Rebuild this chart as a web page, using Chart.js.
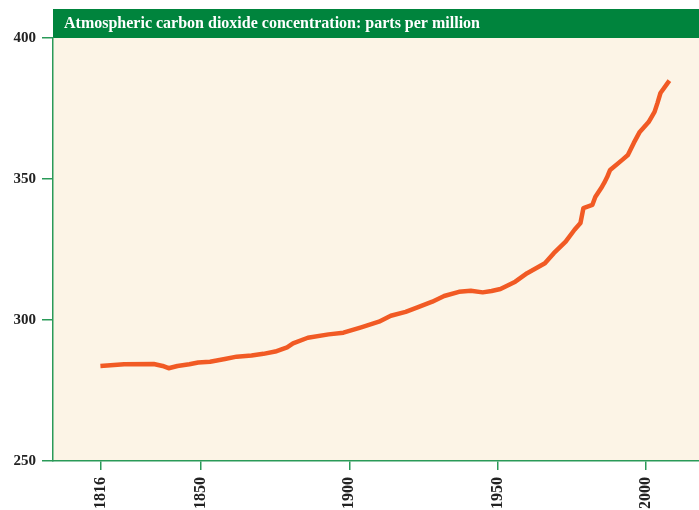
<!DOCTYPE html>
<html>
<head>
<meta charset="utf-8">
<script src="https://cdn.jsdelivr.net/npm/chart.js@4/dist/chart.umd.min.js"></script>
<style>
  html, body { margin: 0; padding: 0; background: #fff; }
  #wrap { width: 699px; height: 510px; }
</style>
</head>
<body>
<div id="wrap"><canvas id="co2Chart"></canvas></div>
<script>
// Dados
const titleText = 'Atmospheric carbon dioxide concentration: parts per million';
const years = [1816,1824,1834,1837,1839,1842,1846,1849,1853,1858,1862,1867,1871,1875,1879,1881,1886,1893,1898,1904,1910,1914,1919,1923,1928,1932,1937,1941,1945,1948,1951,1956,1960,1966,1969,1973,1976,1978,1979,1982,1983,1985,1986,1987,1988,1992,1994,1996,1998,2001,2003,2004,2005,2008];
const ppm = [283.7,284.3,284.4,283.7,282.9,283.7,284.3,284.9,285.2,286.2,287.0,287.4,288.0,288.8,290.3,291.7,293.7,294.9,295.5,297.4,299.4,301.5,302.9,304.5,306.5,308.5,310.0,310.4,309.8,310.3,311.0,313.6,316.6,320.1,323.7,327.8,332.0,334.4,339.7,340.8,343.6,346.8,348.6,350.7,353.2,356.7,358.5,362.8,366.7,370.2,373.8,377,380.5,384.9];
const xTicks = [1816, 1850, 1900, 1950, 2000];
const yTicks = [250, 300, 350, 400];

const green = '#00843d';
const axisGreen = '#2a9a58';
const serif = "'Liberation Serif', 'DejaVu Serif', serif";

// Fundo creme + barra de título
const bgPlugin = {
  id: 'bgPlugin',
  beforeDraw(chart) {
    const { ctx, chartArea: a } = chart;
    ctx.save();
    ctx.fillStyle = '#fcf4e6';
    ctx.fillRect(a.left, a.top, a.right - a.left, a.bottom - a.top);
    ctx.fillStyle = green;
    ctx.fillRect(a.left, a.top - 29, a.right - a.left, 29);
    ctx.fillStyle = '#fff';
    ctx.font = 'bold 16px ' + serif;
    ctx.textBaseline = 'alphabetic';
    ctx.fillText(titleText, a.left + 11, a.top - 10);
    ctx.restore();
  }
};

new Chart(document.getElementById('co2Chart'), {
  type: 'line',
  data: {
    datasets: [{
      data: years.map((y, i) => ({ x: y, y: ppm[i] })),
      borderColor: '#f15a24',
      borderWidth: 4.5,
      pointRadius: 0,
      tension: 0,
      borderCapStyle: 'butt',
      borderJoinStyle: 'round'
    }]
  },
  options: {
    responsive: true,
    maintainAspectRatio: false,
    animation: false,
    layout: { padding: { top: 38, right: 0, left: 0, bottom: 0 } },
    plugins: { legend: { display: false }, tooltip: { enabled: false } },
    scales: {
      x: {
        type: 'linear',
        min: 1800,
        max: 2018,
        afterBuildTicks: s => { s.ticks = xTicks.map(v => ({ value: v })); },
        afterFit: s => { s.height = 49; },
        border: { color: axisGreen, width: 1.5 },
        grid: { drawOnChartArea: false, color: axisGreen, tickLength: 9, lineWidth: 1.5 },
        ticks: {
          minRotation: 90,
          maxRotation: 90,
          padding: 7,
          color: '#222',
          font: { family: serif, size: 16, weight: 'bold' },
          callback: v => String(v)
        }
      },
      y: {
        min: 250,
        max: 400,
        afterBuildTicks: s => { s.ticks = yTicks.map(v => ({ value: v })); },
        afterFit: s => { s.width = 53; },
        border: { color: axisGreen, width: 1.5 },
        grid: { drawOnChartArea: false, color: axisGreen, tickLength: 11, lineWidth: 1.5 },
        ticks: {
          padding: 6,
          color: '#222',
          font: { family: serif, size: 15, weight: 'bold' },
          callback: v => String(v)
        }
      }
    }
  },
  plugins: [bgPlugin]
});
</script>
</body>
</html>
